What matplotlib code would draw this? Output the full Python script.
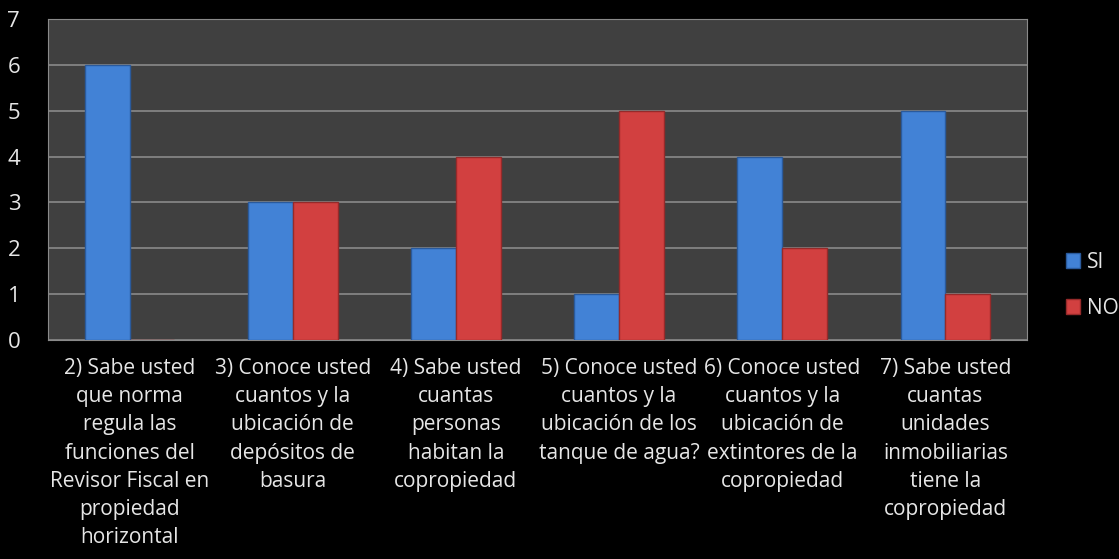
import matplotlib.pyplot as plt
import numpy as np

plt.rcParams['font.family'] = ['Open Sans', 'DejaVu Sans']

preguntas = [
    "2) Sabe usted\nque norma\nregula las\nfunciones del\nRevisor Fiscal en\npropiedad\nhorizontal",
    "3) Conoce usted\ncuantos y la\nubicación de\ndepósitos de\nbasura",
    "4) Sabe usted\ncuantas\npersonas\nhabitan la\ncopropiedad",
    "5) Conoce usted\ncuantos y la\nubicación de los\ntanque de agua?",
    "6) Conoce usted\ncuantos y la\nubicación de\nextintores de la\ncopropiedad",
    "7) Sabe usted\ncuantas\nunidades\ninmobiliarias\ntiene la\ncopropiedad",
]
si = [6, 3, 2, 1, 4, 5]
no = [0, 3, 4, 5, 2, 1]

fig = plt.figure(figsize=(11.19, 5.59), dpi=100, facecolor='black')
ax = fig.add_axes([0.0429, 0.3918, 0.8749, 0.5742])
ax.set_facecolor('#404040')

x = np.arange(len(preguntas))
w = 0.275
ax.bar(x - w / 2, si, w, color='#4282d6', edgecolor='#2a5a9c', linewidth=1, label='SI', zorder=3)
ax.bar(x + w / 2, no, w, color='#d24040', edgecolor='#962a2a', linewidth=1, label='NO', zorder=3)

ax.set_xlim(-0.5, len(preguntas) - 0.5)
ax.set_ylim(0, 7)
ax.set_yticks(range(8))
ax.yaxis.grid(True, color='#8a8a8a', linewidth=1.2, zorder=0)
ax.set_xticks(x)
ax.set_xticklabels(preguntas, multialignment='center', linespacing=1.45, fontsize=15)
ax.tick_params(colors='#e6e6e6', length=0)
ax.tick_params(axis='y', labelsize=16, pad=20)
ax.tick_params(axis='x', pad=13)
for s in ax.spines.values():
    s.set_color('#8a8a8a')

h, l = ax.get_legend_handles_labels()
leg = fig.legend(h, l, loc='center left', bbox_to_anchor=(0.945, 0.49), frameon=False,
                 fontsize=15, handlelength=0.7, handleheight=0.7, labelspacing=1.2,
                 handletextpad=0.3, borderaxespad=0)
for t in leg.get_texts():
    t.set_color('#e6e6e6')

fig.savefig('out.png', dpi=100, facecolor='black')
